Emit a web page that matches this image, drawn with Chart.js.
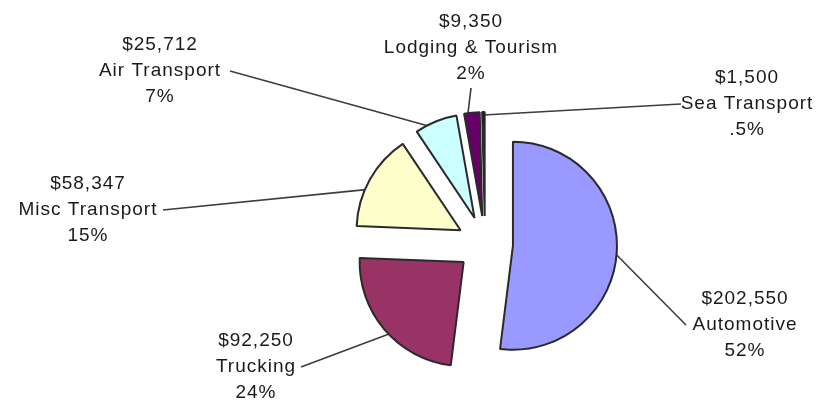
<!DOCTYPE html>
<html>
<head>
<meta charset="utf-8">
<script src="https://cdn.jsdelivr.net/npm/chart.js@4.4.0/dist/chart.umd.min.js"></script>
<style>
  html, body { margin: 0; padding: 0; background: #fff; }
</style>
</head>
<body>
<canvas id="myChart" width="817" height="405"></canvas>
<script>
// datos del grafico
const categorias = ['Automotive', 'Trucking', 'Misc Transport', 'Air Transport', 'Lodging & Tourism', 'Sea Transport'];
const montos = [202550, 92250, 58347, 25712, 9350, 1500];
const porcentajes = ['52%', '24%', '15%', '7%', '2%', '.5%'];

// estilos
const colores = ['#9999ff', '#993366', '#ffffcc', '#ccffff', '#660066', '#000000'];
const radio = 104;      // radio de la torta
const explotar = 28;    // cuanto se separa cada trozo
// x,y = centro de la linea del medio del texto; lx,ly = donde parte la linea guia; f = punto del arco
const etiquetas = [
  { x: 745, y: 325, lx: 686, ly: 325, f: 0.5 },
  { x: 256, y: 367, lx: 301, ly: 367, f: 0.45 },
  { x: 88, y: 210, lx: 163, ly: 210, f: 0.4 },
  { x: 160, y: 71, lx: 230, ly: 71, f: 0.35 },
  { x: 471, y: 48, lx: 471, ly: 88, f: 0.2 },
  { x: 747, y: 104, lx: 681, ly: 104, f: 0.5 }
];

// separo cada trozo del centro, en la direccion de su angulo medio
const separarTrozos = {
  id: 'separarTrozos',
  afterDatasetUpdate(chart) {
    chart.getDatasetMeta(0).data.forEach(arc => {
      const mid = (arc.startAngle + arc.endAngle) / 2;
      arc.x += Math.cos(mid) * explotar;
      arc.y += Math.sin(mid) * explotar;
    });
  }
};

// lineas guia (antes de la torta, para que queden debajo)
const lineasGuia = {
  id: 'lineasGuia',
  beforeDatasetsDraw(chart) {
    const ctx = chart.ctx;
    const arcs = chart.getDatasetMeta(0).data;
    ctx.save();
    ctx.strokeStyle = '#3c3c3c';
    ctx.lineWidth = 1.6;
    arcs.forEach((arc, i) => {
      const e = etiquetas[i];
      const ang = arc.startAngle + (arc.endAngle - arc.startAngle) * e.f;
      const ax = arc.x + Math.cos(ang) * (radio - 3);
      const ay = arc.y + Math.sin(ang) * (radio - 3);
      ctx.beginPath();
      ctx.moveTo(e.lx, e.ly);
      ctx.lineTo(ax, ay);
      ctx.stroke();
    });
    ctx.restore();
  }
};

// textos de cada trozo
const textos = {
  id: 'textos',
  afterDraw(chart) {
    const ctx = chart.ctx;
    ctx.save();
    ctx.font = '19px "Liberation Sans"';
    ctx.letterSpacing = '1px';
    ctx.fillStyle = '#1a1a1a';
    ctx.textAlign = 'center';
    ctx.textBaseline = 'middle';
    categorias.forEach((cat, i) => {
      const e = etiquetas[i];
      const lineas = ['$' + montos[i].toLocaleString('en-US'), cat, porcentajes[i]];
      lineas.forEach((t, j) => {
        ctx.fillText(t, e.x, e.y + (j - 1) * 26);
      });
    });
    ctx.restore();
  }
};

const ctx = document.getElementById('myChart');
const grafico = new Chart(ctx, {
  type: 'pie',
  data: {
    labels: categorias,
    datasets: [{
      data: montos,
      backgroundColor: colores,
      borderColor: '#2a2a2a',
      borderWidth: 2
    }]
  },
  options: {
    responsive: false,
    animation: false,
    events: [],
    radius: radio,
    layout: { padding: { left: 153, top: 83, right: 0, bottom: 0 } },
    plugins: {
      legend: { display: false },
      tooltip: { enabled: false }
    }
  },
  plugins: [separarTrozos, lineasGuia, textos]
});
</script>
</body>
</html>
